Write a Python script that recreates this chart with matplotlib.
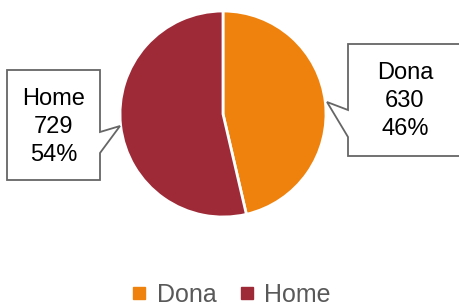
import matplotlib
matplotlib.use("Agg")
import matplotlib.pyplot as plt
from matplotlib.patches import Polygon
from matplotlib.lines import Line2D
from matplotlib import font_manager

categories = ["Dona", "Home"]
values = [630, 729]
colors = ["#EF820D", "#9E2A38"]

names = {f.name for f in font_manager.fontManager.ttflist}
fam = ["Liberation Sans Narrow", "Liberation Sans", "DejaVu Sans"]
fam = [f for f in fam if f in names] or ["DejaVu Sans"]
plt.rcParams['font.family'] = fam

W, H = 460, 308
fig = plt.figure(figsize=(W / 100, H / 100), dpi=100)
ax = fig.add_axes([0, 0, 1, 1])
ax.set_xlim(0, W)
ax.set_ylim(0, H)
ax.set_aspect('equal')
ax.axis('off')

def Y(y):
    return H - y

wedges, _ = ax.pie(values, colors=colors, startangle=90, counterclock=False,
                   center=(223, Y(114)), radius=103, frame=True,
                   wedgeprops=dict(edgecolor='white', linewidth=2))
ax.set_xlim(0, W)
ax.set_ylim(0, H)
ax.axis('off')

total = sum(values)
labels = [f"{c}\n{v}\n{round(100 * v / total)}%" for c, v in zip(categories, values)]

# callout boxes
home_box = [(7, 70), (100, 70), (100, 132), (120, 126), (100, 153), (100, 180), (7, 180)]
dona_box = [(348, 44), (470, 44), (470, 156), (348, 156), (348, 137), (327, 102), (348, 110)]
for pts in (dona_box, home_box):
    ax.add_patch(Polygon([(x, Y(y)) for x, y in pts], closed=True, facecolor='white',
                         edgecolor='#666666', linewidth=1.3, zorder=3))

ax.text(405, Y(101), labels[0], ha='center', va='center', fontsize=17,
        linespacing=1.33, color='black', zorder=4)
ax.text(54, Y(127), labels[1], ha='center', va='center', fontsize=17,
        linespacing=1.33, color='black', zorder=4)

handles = [Line2D([], [], marker='s', linestyle='none', markersize=8.5,
                  markerfacecolor=c, markeredgecolor=c) for c in colors]
ax.legend(handles, categories, loc='center', bbox_to_anchor=(230 / W, 1 - 295 / H),
          ncol=2, frameon=False, fontsize=18, handlelength=0.8, handletextpad=0.3,
          columnspacing=0.8, labelcolor='#595959')

fig.savefig("out.png", dpi=100)
